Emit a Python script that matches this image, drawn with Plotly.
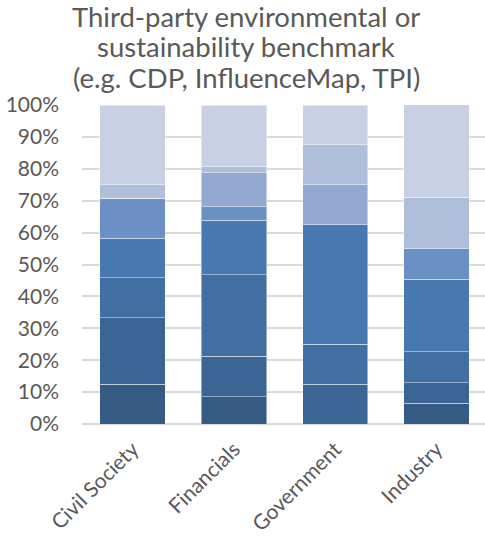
import plotly.graph_objects as go

# Respondent groups along the x axis
categories = ["Civil Society", "Financials", "Government", "Industry"]

# Share of responses (%) for each rating band, darkest band at the bottom
band_1 = [12.5, 8.5, 0.0, 6.5]
band_2 = [20.8, 12.8, 12.5, 6.5]
band_3 = [12.5, 25.5, 12.5, 9.7]
band_4 = [12.5, 17.0, 37.5, 22.6]
band_5 = [12.5, 4.3, 0.0, 9.7]
band_6 = [0.0, 10.6, 12.5, 0.0]
band_7 = [4.2, 2.1, 12.5, 16.1]
band_8 = [25.0, 19.1, 12.5, 29.0]

bands = [band_1, band_2, band_3, band_4, band_5, band_6, band_7, band_8]
band_names = ["1", "2", "3", "4", "5", "6", "7", "8"]
band_colors = ["#355A84", "#3B6595", "#426FA2", "#4878B0",
               "#6A90C4", "#93A8D0", "#AFBFDB", "#C8D0E3"]

title_lines = [
    "Third-party environmental or",
    "sustainability benchmark",
    "(e.g. CDP, InfluenceMap, TPI)",
]

TEXT = "#595959"
FONT = "Lato"

fig = go.Figure()
for name, vals, col in zip(band_names, bands, band_colors):
    fig.add_trace(go.Bar(
        x=categories, y=vals, name=name,
        marker=dict(color=col, line=dict(color="rgba(255,255,255,0.45)", width=1)),
        width=0.645,
        hoverinfo="skip",
    ))

# Chart title: one centred annotation per line, set with a tight line pitch
line_shifts = [70, 39.5, 8.5]
for line, shift in zip(title_lines, line_shifts):
    fig.add_annotation(
        text=line,
        xref="paper", yref="paper",
        x=0.407, y=1.0, yshift=shift,
        xanchor="center", yanchor="bottom",
        showarrow=False,
        font=dict(family=FONT, size=27.5, color=TEXT),
    )

fig.update_layout(
    width=485, height=541,
    barmode="stack",
    showlegend=False,
    paper_bgcolor="white",
    plot_bgcolor="white",
    margin=dict(l=82, r=0, t=105, b=117),
    font=dict(family=FONT, color=TEXT, size=21),
    xaxis=dict(
        range=[-0.5, 3.478],
        tickangle=-45,
        showgrid=False,
        showline=False,
        ticks="",
        ticklabelstandoff=8,
        tickfont=dict(size=21, color=TEXT),
    ),
    yaxis=dict(
        range=[0, 100],
        dtick=10,
        ticksuffix="%",
        showgrid=True,
        gridcolor="#D9D9D9",
        gridwidth=1.5,
        zeroline=True,
        zerolinecolor="#D9D9D9",
        zerolinewidth=1.5,
        showline=False,
        ticks="",
        ticklabelstandoff=22,
        tickfont=dict(size=21, color=TEXT),
    ),
)

fig.write_html("out.html")
